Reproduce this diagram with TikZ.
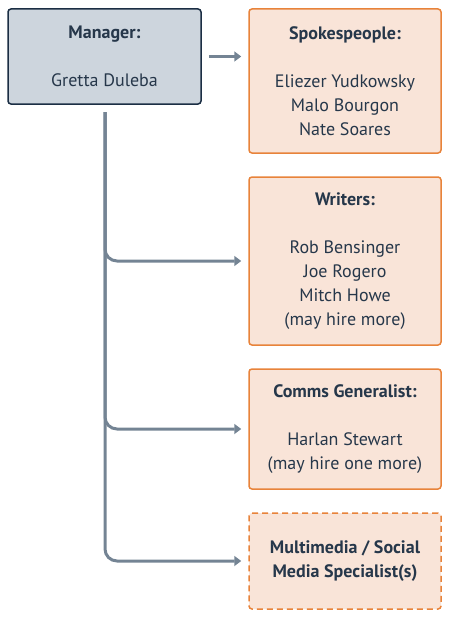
\documentclass[tikz,border=0pt]{standalone}
\usepackage{fontspec}
\setmainfont{PT Sans}
\usetikzlibrary{arrows.meta}
\definecolor{navy}{HTML}{1B2E44}
\definecolor{mgrfill}{HTML}{CDD5DD}
\definecolor{orng}{HTML}{E8833A}
\definecolor{peach}{HTML}{F9E4D8}
\definecolor{txt}{HTML}{26374A}
\definecolor{arrc}{HTML}{748494}
\begin{document}
\begin{tikzpicture}[x=1pt,y=-1pt,
  box/.style={rectangle, rounded corners=3pt, line width=1.5pt, align=center,
    text=txt, font=\fontsize{18}{24}\selectfont, inner sep=0pt},
  mgrbox/.style={box, draw=navy, fill=mgrfill, minimum width=193pt},
  rolebox/.style={box, draw=orng, fill=peach, minimum width=192pt},
  arr/.style={draw=arrc, line width=3pt, -{Triangle[length=7pt,width=10pt]}},
  branch/.style={arr, rounded corners=12pt}]
\useasboundingbox (0,0) rectangle (450,618);
\node[mgrbox, minimum height=95pt] (mgr) at (104.5,56.5) {\textbf{Manager:}\\[24pt]Gretta Duleba};
\node[rolebox, minimum height=144pt] (sp) at (345,81) {\textbf{Spokespeople:}\\[24pt]Eliezer Yudkowsky\\Malo Bourgon\\Nate Soares};
\node[rolebox, minimum height=168pt] (wr) at (345,261) {\textbf{Writers:}\\[24pt]Rob Bensinger\\Joe Rogero\\Mitch Howe\\(may hire more)};
\node[rolebox, minimum height=120pt] (cg) at (345,429) {\textbf{Comms Generalist:}\\[24pt]Harlan Stewart\\(may hire one more)};
\node[rolebox, dashed, dash pattern=on 6pt off 4pt, minimum height=96pt] (mm) at (345,561) {\textbf{Multimedia / Social}\\\textbf{Media Specialist(s)}};
\coordinate (t) at (105,112);
\draw[arr] ([xshift=7pt]mgr.east) -- ([xshift=-7pt]mgr.east -| sp.west);
\draw[branch] (t) |- ([xshift=-7pt]wr.west);
\draw[branch] (t) |- ([xshift=-7pt]cg.west);
\draw[branch] (t) |- ([xshift=-7pt]mm.west);
\end{tikzpicture}
\end{document}
